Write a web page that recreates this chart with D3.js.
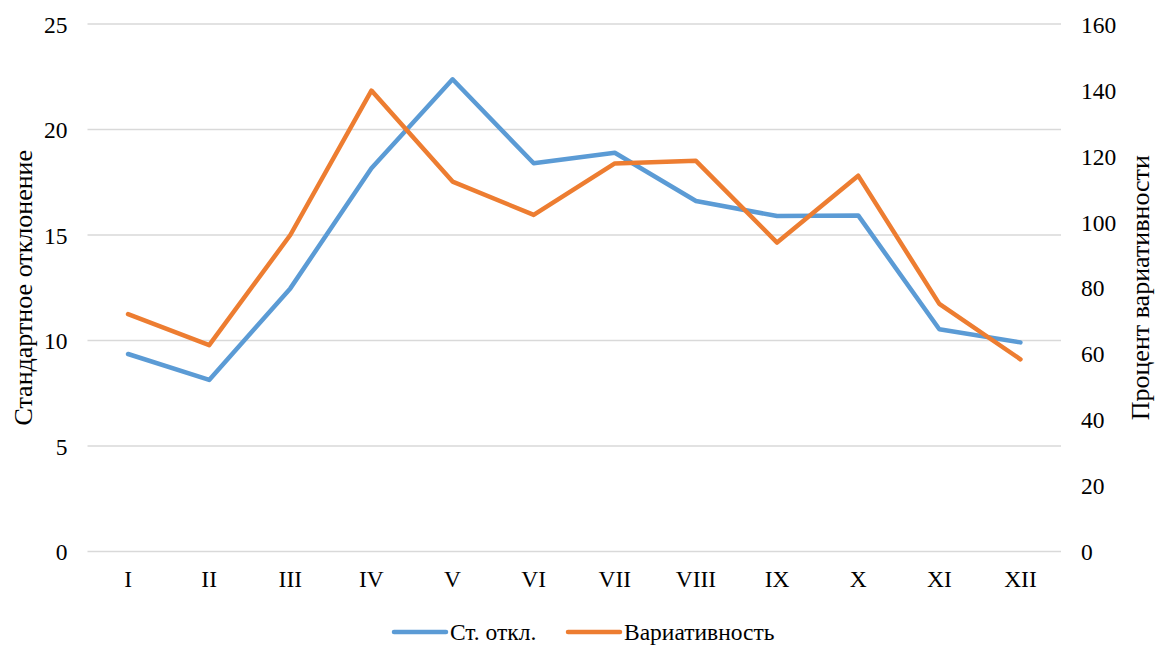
<!DOCTYPE html>
<html><head><meta charset="utf-8">
<script src="https://cdn.jsdelivr.net/npm/d3@7"></script>
<style>
body{margin:0;background:#fff;}
</style></head>
<body><svg id="c" width="1160" height="648"></svg>
<script>
const categories = ["I","II","III","IV","V","VI","VII","VIII","IX","X","XI","XII"];
const stdDev = [9.36,8.13,12.47,18.16,22.38,18.40,18.90,16.61,15.90,15.93,10.53,9.91];
const variability = [72.0,62.6,96.0,139.8,112.2,102.1,117.7,118.5,93.7,114.0,75.1,58.3];
const leftTicks = [0,5,10,15,20,25];
const rightTicks = [0,20,40,60,80,100,120,140,160];
const seriesNames = ["Ст. откл.","Вариативность"];
const axisTitles = ["Стандартное отклонение","Процент вариативности"];

const W=1160,H=648;
const m={left:87.5,right:1061,top:24,bottom:551.5};
const svg=d3.select("#c");
const fs=23.5, fsTitle=26;
const FONT="'Times New Roman', 'Liberation Serif', 'DejaVu Serif', serif";
const blue="#5B9BD5", orange="#ED7D31";

const x=d3.scaleBand().domain(categories).range([m.left,m.right]);
const yL=d3.scaleLinear().domain([0,25]).range([m.bottom,m.top]);
const yR=d3.scaleLinear().domain([0,160]).range([m.bottom,m.top]);

function styleText(sel,size){ sel.style("font-family",FONT).style("font-size",(size||fs)+"px").attr("fill","#000"); }

// gridlines
svg.append("g").selectAll("line").data(leftTicks).join("line")
  .attr("x1",m.left).attr("x2",m.right)
  .attr("y1",d=>yL(d)).attr("y2",d=>yL(d))
  .attr("stroke","#d9d9d9").attr("stroke-width",1.3);

// left axis
const gl=svg.append("g").attr("transform",`translate(${m.left-8},0)`)
  .call(d3.axisLeft(yL).tickValues(leftTicks).tickSize(0).tickPadding(12));
gl.select(".domain").remove();
gl.attr("font-family",null);
gl.selectAll("text").call(styleText).attr("dy","0.35em");

// right axis
const gr=svg.append("g").attr("transform",`translate(${m.right+8},0)`)
  .call(d3.axisRight(yR).tickValues(rightTicks).tickSize(0).tickPadding(12));
gr.select(".domain").remove();
gr.attr("font-family",null);
gr.selectAll("text").call(styleText).attr("dy","0.35em");

// bottom axis
const gb=svg.append("g").attr("transform",`translate(0,${m.bottom})`)
  .call(d3.axisBottom(x).tickSize(0).tickPadding(19));
gb.select(".domain").remove();
gb.attr("font-family",null);
gb.selectAll("text").call(styleText);

// lines
const lineL=d3.line().x((d,i)=>x(categories[i])+x.bandwidth()/2).y(d=>yL(d));
const lineR=d3.line().x((d,i)=>x(categories[i])+x.bandwidth()/2).y(d=>yR(d));
svg.append("path").datum(stdDev).attr("d",lineL).attr("fill","none")
  .attr("stroke",blue).attr("stroke-width",4.5).attr("stroke-linejoin","round").attr("stroke-linecap","round");
svg.append("path").datum(variability).attr("d",lineR).attr("fill","none")
  .attr("stroke",orange).attr("stroke-width",4.5).attr("stroke-linejoin","round").attr("stroke-linecap","round");

// axis titles
const cy=(m.top+m.bottom)/2;
svg.append("text").attr("transform",`translate(32,${cy}) rotate(-90)`)
  .attr("text-anchor","middle").call(styleText,fsTitle).text(axisTitles[0]);
svg.append("text").attr("transform",`translate(1149,${cy}) rotate(-90)`)
  .attr("text-anchor","middle").call(styleText,fsTitle).text(axisTitles[1]);

// legend
const legY=632;
const leg=[{x:394,c:blue,t:seriesNames[0]},{x:568,c:orange,t:seriesNames[1]}];
leg.forEach(l=>{
  svg.append("line").attr("x1",l.x).attr("x2",l.x+52).attr("y1",legY).attr("y2",legY)
    .attr("stroke",l.c).attr("stroke-width",4.5).attr("stroke-linecap","round");
  svg.append("text").attr("x",l.x+56).attr("y",legY).attr("dy","0.35em")
    .call(styleText).text(l.t);
});
</script></body></html>
